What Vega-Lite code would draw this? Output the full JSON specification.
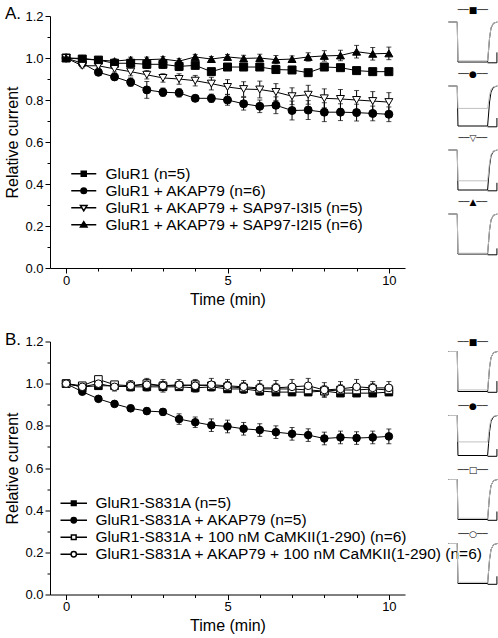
{
 "$schema": "https://vega.github.io/schema/vega-lite/v6.json",
 "padding": {"left": 4, "top": 5, "right": 0, "bottom": 0},
 "background": "white",
 "config": {
  "view": {"stroke": null},
  "font": "Liberation Sans",
  "axis": {"domainColor": "black", "tickColor": "black", "labelColor": "black", "titleColor": "black", "grid": false, "labelFontSize": 13, "titleFontSize": 16, "titleFontWeight": "normal", "labelFont": "Liberation Sans", "titleFont": "Liberation Sans", "domainWidth": 1, "tickWidth": 1},
  "legend": {"orient": "none", "title": null, "labelFontSize": 15.5, "labelFont": "Liberation Sans", "labelColor": "black", "labelLimit": 0, "labelOffset": 14, "rowPadding": -3.5, "padding": 0},
  "title": {"fontSize": 17, "fontWeight": "normal", "font": "Liberation Sans", "anchor": "start", "frame": "group", "color": "black"}
 },
 "datasets": {
  "A": [
   {"s":"GluR1 (n=5)","t":0,"m":1.0,"e":0.005},{"s":"GluR1 (n=5)","t":0.5,"m":0.995,"e":0.01},{"s":"GluR1 (n=5)","t":1,"m":0.99,"e":0.01},{"s":"GluR1 (n=5)","t":1.5,"m":0.975,"e":0.015},{"s":"GluR1 (n=5)","t":2,"m":0.975,"e":0.015},{"s":"GluR1 (n=5)","t":2.5,"m":0.97,"e":0.02},{"s":"GluR1 (n=5)","t":3,"m":0.97,"e":0.02},{"s":"GluR1 (n=5)","t":3.5,"m":0.96,"e":0.02},{"s":"GluR1 (n=5)","t":4,"m":0.965,"e":0.015},{"s":"GluR1 (n=5)","t":4.5,"m":0.935,"e":0.015},{"s":"GluR1 (n=5)","t":5,"m":0.957,"e":0.015},{"s":"GluR1 (n=5)","t":5.5,"m":0.957,"e":0.01},{"s":"GluR1 (n=5)","t":6,"m":0.957,"e":0.01},{"s":"GluR1 (n=5)","t":6.5,"m":0.945,"e":0.01},{"s":"GluR1 (n=5)","t":7,"m":0.943,"e":0.012},{"s":"GluR1 (n=5)","t":7.5,"m":0.93,"e":0.015},{"s":"GluR1 (n=5)","t":8,"m":0.957,"e":0.01},{"s":"GluR1 (n=5)","t":8.5,"m":0.954,"e":0.01},{"s":"GluR1 (n=5)","t":9,"m":0.94,"e":0.012},{"s":"GluR1 (n=5)","t":9.5,"m":0.935,"e":0.015},{"s":"GluR1 (n=5)","t":10,"m":0.935,"e":0.015},
   {"s":"GluR1 + AKAP79 (n=6)","t":0,"m":1.0,"e":0.005},{"s":"GluR1 + AKAP79 (n=6)","t":0.5,"m":0.975,"e":0.012},{"s":"GluR1 + AKAP79 (n=6)","t":1,"m":0.932,"e":0.012},{"s":"GluR1 + AKAP79 (n=6)","t":1.5,"m":0.91,"e":0.012},{"s":"GluR1 + AKAP79 (n=6)","t":2,"m":0.885,"e":0.02},{"s":"GluR1 + AKAP79 (n=6)","t":2.5,"m":0.848,"e":0.04},{"s":"GluR1 + AKAP79 (n=6)","t":3,"m":0.837,"e":0.02},{"s":"GluR1 + AKAP79 (n=6)","t":3.5,"m":0.834,"e":0.02},{"s":"GluR1 + AKAP79 (n=6)","t":4,"m":0.808,"e":0.015},{"s":"GluR1 + AKAP79 (n=6)","t":4.5,"m":0.808,"e":0.02},{"s":"GluR1 + AKAP79 (n=6)","t":5,"m":0.8,"e":0.025},{"s":"GluR1 + AKAP79 (n=6)","t":5.5,"m":0.782,"e":0.03},{"s":"GluR1 + AKAP79 (n=6)","t":6,"m":0.77,"e":0.03},{"s":"GluR1 + AKAP79 (n=6)","t":6.5,"m":0.775,"e":0.04},{"s":"GluR1 + AKAP79 (n=6)","t":7,"m":0.75,"e":0.045},{"s":"GluR1 + AKAP79 (n=6)","t":7.5,"m":0.752,"e":0.045},{"s":"GluR1 + AKAP79 (n=6)","t":8,"m":0.742,"e":0.045},{"s":"GluR1 + AKAP79 (n=6)","t":8.5,"m":0.742,"e":0.04},{"s":"GluR1 + AKAP79 (n=6)","t":9,"m":0.74,"e":0.04},{"s":"GluR1 + AKAP79 (n=6)","t":9.5,"m":0.736,"e":0.035},{"s":"GluR1 + AKAP79 (n=6)","t":10,"m":0.732,"e":0.035},
   {"s":"GluR1 + AKAP79 + SAP97-I3I5 (n=5)","t":0,"m":1.0,"e":0.005},{"s":"GluR1 + AKAP79 + SAP97-I3I5 (n=5)","t":0.5,"m":0.963,"e":0.01},{"s":"GluR1 + AKAP79 + SAP97-I3I5 (n=5)","t":1,"m":0.963,"e":0.01},{"s":"GluR1 + AKAP79 + SAP97-I3I5 (n=5)","t":1.5,"m":0.948,"e":0.015},{"s":"GluR1 + AKAP79 + SAP97-I3I5 (n=5)","t":2,"m":0.935,"e":0.02},{"s":"GluR1 + AKAP79 + SAP97-I3I5 (n=5)","t":2.5,"m":0.92,"e":0.02},{"s":"GluR1 + AKAP79 + SAP97-I3I5 (n=5)","t":3,"m":0.905,"e":0.02},{"s":"GluR1 + AKAP79 + SAP97-I3I5 (n=5)","t":3.5,"m":0.9,"e":0.025},{"s":"GluR1 + AKAP79 + SAP97-I3I5 (n=5)","t":4,"m":0.892,"e":0.025},{"s":"GluR1 + AKAP79 + SAP97-I3I5 (n=5)","t":4.5,"m":0.878,"e":0.03},{"s":"GluR1 + AKAP79 + SAP97-I3I5 (n=5)","t":5,"m":0.862,"e":0.035},{"s":"GluR1 + AKAP79 + SAP97-I3I5 (n=5)","t":5.5,"m":0.852,"e":0.035},{"s":"GluR1 + AKAP79 + SAP97-I3I5 (n=5)","t":6,"m":0.85,"e":0.04},{"s":"GluR1 + AKAP79 + SAP97-I3I5 (n=5)","t":6.5,"m":0.838,"e":0.04},{"s":"GluR1 + AKAP79 + SAP97-I3I5 (n=5)","t":7,"m":0.818,"e":0.04},{"s":"GluR1 + AKAP79 + SAP97-I3I5 (n=5)","t":7.5,"m":0.825,"e":0.045},{"s":"GluR1 + AKAP79 + SAP97-I3I5 (n=5)","t":8,"m":0.808,"e":0.045},{"s":"GluR1 + AKAP79 + SAP97-I3I5 (n=5)","t":8.5,"m":0.805,"e":0.045},{"s":"GluR1 + AKAP79 + SAP97-I3I5 (n=5)","t":9,"m":0.8,"e":0.045},{"s":"GluR1 + AKAP79 + SAP97-I3I5 (n=5)","t":9.5,"m":0.795,"e":0.045},{"s":"GluR1 + AKAP79 + SAP97-I3I5 (n=5)","t":10,"m":0.79,"e":0.045},
   {"s":"GluR1 + AKAP79 + SAP97-I2I5 (n=6)","t":0,"m":1.0,"e":0.005},{"s":"GluR1 + AKAP79 + SAP97-I2I5 (n=6)","t":0.5,"m":0.998,"e":0.01},{"s":"GluR1 + AKAP79 + SAP97-I2I5 (n=6)","t":1,"m":0.99,"e":0.01},{"s":"GluR1 + AKAP79 + SAP97-I2I5 (n=6)","t":1.5,"m":0.985,"e":0.01},{"s":"GluR1 + AKAP79 + SAP97-I2I5 (n=6)","t":2,"m":0.992,"e":0.012},{"s":"GluR1 + AKAP79 + SAP97-I2I5 (n=6)","t":2.5,"m":0.992,"e":0.012},{"s":"GluR1 + AKAP79 + SAP97-I2I5 (n=6)","t":3,"m":0.995,"e":0.012},{"s":"GluR1 + AKAP79 + SAP97-I2I5 (n=6)","t":3.5,"m":0.985,"e":0.012},{"s":"GluR1 + AKAP79 + SAP97-I2I5 (n=6)","t":4,"m":1.005,"e":0.012},{"s":"GluR1 + AKAP79 + SAP97-I2I5 (n=6)","t":4.5,"m":0.995,"e":0.012},{"s":"GluR1 + AKAP79 + SAP97-I2I5 (n=6)","t":5,"m":1.005,"e":0.012},{"s":"GluR1 + AKAP79 + SAP97-I2I5 (n=6)","t":5.5,"m":0.998,"e":0.015},{"s":"GluR1 + AKAP79 + SAP97-I2I5 (n=6)","t":6,"m":1.0,"e":0.018},{"s":"GluR1 + AKAP79 + SAP97-I2I5 (n=6)","t":6.5,"m":0.992,"e":0.02},{"s":"GluR1 + AKAP79 + SAP97-I2I5 (n=6)","t":7,"m":0.995,"e":0.015},{"s":"GluR1 + AKAP79 + SAP97-I2I5 (n=6)","t":7.5,"m":1.005,"e":0.02},{"s":"GluR1 + AKAP79 + SAP97-I2I5 (n=6)","t":8,"m":1.01,"e":0.025},{"s":"GluR1 + AKAP79 + SAP97-I2I5 (n=6)","t":8.5,"m":1.012,"e":0.025},{"s":"GluR1 + AKAP79 + SAP97-I2I5 (n=6)","t":9,"m":1.03,"e":0.03},{"s":"GluR1 + AKAP79 + SAP97-I2I5 (n=6)","t":9.5,"m":1.02,"e":0.03},{"s":"GluR1 + AKAP79 + SAP97-I2I5 (n=6)","t":10,"m":1.022,"e":0.03}
  ],
  "B": [
   {"s":"GluR1-S831A (n=5)","t":0,"m":1.0,"e":0.005},{"s":"GluR1-S831A (n=5)","t":0.5,"m":0.985,"e":0.01},{"s":"GluR1-S831A (n=5)","t":1,"m":0.99,"e":0.01},{"s":"GluR1-S831A (n=5)","t":1.5,"m":0.99,"e":0.012},{"s":"GluR1-S831A (n=5)","t":2,"m":0.985,"e":0.012},{"s":"GluR1-S831A (n=5)","t":2.5,"m":0.985,"e":0.012},{"s":"GluR1-S831A (n=5)","t":3,"m":0.985,"e":0.012},{"s":"GluR1-S831A (n=5)","t":3.5,"m":0.985,"e":0.012},{"s":"GluR1-S831A (n=5)","t":4,"m":0.98,"e":0.015},{"s":"GluR1-S831A (n=5)","t":4.5,"m":0.985,"e":0.015},{"s":"GluR1-S831A (n=5)","t":5,"m":0.975,"e":0.015},{"s":"GluR1-S831A (n=5)","t":5.5,"m":0.975,"e":0.015},{"s":"GluR1-S831A (n=5)","t":6,"m":0.965,"e":0.015},{"s":"GluR1-S831A (n=5)","t":6.5,"m":0.96,"e":0.015},{"s":"GluR1-S831A (n=5)","t":7,"m":0.96,"e":0.015},{"s":"GluR1-S831A (n=5)","t":7.5,"m":0.96,"e":0.015},{"s":"GluR1-S831A (n=5)","t":8,"m":0.965,"e":0.015},{"s":"GluR1-S831A (n=5)","t":8.5,"m":0.955,"e":0.015},{"s":"GluR1-S831A (n=5)","t":9,"m":0.955,"e":0.015},{"s":"GluR1-S831A (n=5)","t":9.5,"m":0.955,"e":0.015},{"s":"GluR1-S831A (n=5)","t":10,"m":0.96,"e":0.015},
   {"s":"GluR1-S831A + AKAP79 (n=5)","t":0,"m":1.0,"e":0.005},{"s":"GluR1-S831A + AKAP79 (n=5)","t":0.5,"m":0.962,"e":0.01},{"s":"GluR1-S831A + AKAP79 (n=5)","t":1,"m":0.928,"e":0.01},{"s":"GluR1-S831A + AKAP79 (n=5)","t":1.5,"m":0.904,"e":0.01},{"s":"GluR1-S831A + AKAP79 (n=5)","t":2,"m":0.883,"e":0.015},{"s":"GluR1-S831A + AKAP79 (n=5)","t":2.5,"m":0.87,"e":0.015},{"s":"GluR1-S831A + AKAP79 (n=5)","t":3,"m":0.866,"e":0.015},{"s":"GluR1-S831A + AKAP79 (n=5)","t":3.5,"m":0.832,"e":0.025},{"s":"GluR1-S831A + AKAP79 (n=5)","t":4,"m":0.817,"e":0.025},{"s":"GluR1-S831A + AKAP79 (n=5)","t":4.5,"m":0.803,"e":0.03},{"s":"GluR1-S831A + AKAP79 (n=5)","t":5,"m":0.797,"e":0.03},{"s":"GluR1-S831A + AKAP79 (n=5)","t":5.5,"m":0.786,"e":0.03},{"s":"GluR1-S831A + AKAP79 (n=5)","t":6,"m":0.78,"e":0.03},{"s":"GluR1-S831A + AKAP79 (n=5)","t":6.5,"m":0.77,"e":0.03},{"s":"GluR1-S831A + AKAP79 (n=5)","t":7,"m":0.762,"e":0.03},{"s":"GluR1-S831A + AKAP79 (n=5)","t":7.5,"m":0.756,"e":0.03},{"s":"GluR1-S831A + AKAP79 (n=5)","t":8,"m":0.74,"e":0.03},{"s":"GluR1-S831A + AKAP79 (n=5)","t":8.5,"m":0.745,"e":0.03},{"s":"GluR1-S831A + AKAP79 (n=5)","t":9,"m":0.742,"e":0.03},{"s":"GluR1-S831A + AKAP79 (n=5)","t":9.5,"m":0.745,"e":0.03},{"s":"GluR1-S831A + AKAP79 (n=5)","t":10,"m":0.75,"e":0.035},
   {"s":"GluR1-S831A + 100 nM CaMKII(1-290) (n=6)","t":0,"m":1.0,"e":0.005},{"s":"GluR1-S831A + 100 nM CaMKII(1-290) (n=6)","t":0.5,"m":0.99,"e":0.01},{"s":"GluR1-S831A + 100 nM CaMKII(1-290) (n=6)","t":1,"m":1.02,"e":0.012},{"s":"GluR1-S831A + 100 nM CaMKII(1-290) (n=6)","t":1.5,"m":0.995,"e":0.015},{"s":"GluR1-S831A + 100 nM CaMKII(1-290) (n=6)","t":2,"m":0.99,"e":0.015},{"s":"GluR1-S831A + 100 nM CaMKII(1-290) (n=6)","t":2.5,"m":1.0,"e":0.02},{"s":"GluR1-S831A + 100 nM CaMKII(1-290) (n=6)","t":3,"m":0.99,"e":0.02},{"s":"GluR1-S831A + 100 nM CaMKII(1-290) (n=6)","t":3.5,"m":0.99,"e":0.02},{"s":"GluR1-S831A + 100 nM CaMKII(1-290) (n=6)","t":4,"m":0.995,"e":0.02},{"s":"GluR1-S831A + 100 nM CaMKII(1-290) (n=6)","t":4.5,"m":0.99,"e":0.02},{"s":"GluR1-S831A + 100 nM CaMKII(1-290) (n=6)","t":5,"m":0.985,"e":0.025},{"s":"GluR1-S831A + 100 nM CaMKII(1-290) (n=6)","t":5.5,"m":0.98,"e":0.025},{"s":"GluR1-S831A + 100 nM CaMKII(1-290) (n=6)","t":6,"m":0.975,"e":0.025},{"s":"GluR1-S831A + 100 nM CaMKII(1-290) (n=6)","t":6.5,"m":0.975,"e":0.025},{"s":"GluR1-S831A + 100 nM CaMKII(1-290) (n=6)","t":7,"m":0.975,"e":0.025},{"s":"GluR1-S831A + 100 nM CaMKII(1-290) (n=6)","t":7.5,"m":0.97,"e":0.025},{"s":"GluR1-S831A + 100 nM CaMKII(1-290) (n=6)","t":8,"m":0.965,"e":0.025},{"s":"GluR1-S831A + 100 nM CaMKII(1-290) (n=6)","t":8.5,"m":0.97,"e":0.025},{"s":"GluR1-S831A + 100 nM CaMKII(1-290) (n=6)","t":9,"m":0.97,"e":0.025},{"s":"GluR1-S831A + 100 nM CaMKII(1-290) (n=6)","t":9.5,"m":0.975,"e":0.025},{"s":"GluR1-S831A + 100 nM CaMKII(1-290) (n=6)","t":10,"m":0.97,"e":0.025},
   {"s":"GluR1-S831A + AKAP79 + 100 nM CaMKII(1-290) (n=6)","t":0,"m":1.0,"e":0.005},{"s":"GluR1-S831A + AKAP79 + 100 nM CaMKII(1-290) (n=6)","t":0.5,"m":0.985,"e":0.012},{"s":"GluR1-S831A + AKAP79 + 100 nM CaMKII(1-290) (n=6)","t":1,"m":1.0,"e":0.015},{"s":"GluR1-S831A + AKAP79 + 100 nM CaMKII(1-290) (n=6)","t":1.5,"m":0.985,"e":0.02},{"s":"GluR1-S831A + AKAP79 + 100 nM CaMKII(1-290) (n=6)","t":2,"m":0.99,"e":0.025},{"s":"GluR1-S831A + AKAP79 + 100 nM CaMKII(1-290) (n=6)","t":2.5,"m":0.995,"e":0.03},{"s":"GluR1-S831A + AKAP79 + 100 nM CaMKII(1-290) (n=6)","t":3,"m":0.99,"e":0.03},{"s":"GluR1-S831A + AKAP79 + 100 nM CaMKII(1-290) (n=6)","t":3.5,"m":0.995,"e":0.025},{"s":"GluR1-S831A + AKAP79 + 100 nM CaMKII(1-290) (n=6)","t":4,"m":0.99,"e":0.03},{"s":"GluR1-S831A + AKAP79 + 100 nM CaMKII(1-290) (n=6)","t":4.5,"m":0.995,"e":0.03},{"s":"GluR1-S831A + AKAP79 + 100 nM CaMKII(1-290) (n=6)","t":5,"m":0.99,"e":0.03},{"s":"GluR1-S831A + AKAP79 + 100 nM CaMKII(1-290) (n=6)","t":5.5,"m":0.985,"e":0.03},{"s":"GluR1-S831A + AKAP79 + 100 nM CaMKII(1-290) (n=6)","t":6,"m":0.98,"e":0.035},{"s":"GluR1-S831A + AKAP79 + 100 nM CaMKII(1-290) (n=6)","t":6.5,"m":0.98,"e":0.035},{"s":"GluR1-S831A + AKAP79 + 100 nM CaMKII(1-290) (n=6)","t":7,"m":0.985,"e":0.035},{"s":"GluR1-S831A + AKAP79 + 100 nM CaMKII(1-290) (n=6)","t":7.5,"m":0.99,"e":0.035},{"s":"GluR1-S831A + AKAP79 + 100 nM CaMKII(1-290) (n=6)","t":8,"m":0.97,"e":0.035},{"s":"GluR1-S831A + AKAP79 + 100 nM CaMKII(1-290) (n=6)","t":8.5,"m":0.975,"e":0.035},{"s":"GluR1-S831A + AKAP79 + 100 nM CaMKII(1-290) (n=6)","t":9,"m":0.985,"e":0.035},{"s":"GluR1-S831A + AKAP79 + 100 nM CaMKII(1-290) (n=6)","t":9.5,"m":0.98,"e":0.03},{"s":"GluR1-S831A + AKAP79 + 100 nM CaMKII(1-290) (n=6)","t":10,"m":0.98,"e":0.03}
  ],
  "T": [
   {"p":1,"k":"ctrl","tx":0,"ty":0},{"p":1,"k":"ctrl","tx":18,"ty":0},{"p":1,"k":"ctrl","tx":19.5,"ty":-1},{"p":1,"k":"ctrl","tx":80,"ty":-1},{"p":1,"k":"ctrl","tx":82,"ty":-0.7},{"p":1,"k":"ctrl","tx":84,"ty":-0.4},{"p":1,"k":"ctrl","tx":87,"ty":-0.15},{"p":1,"k":"ctrl","tx":92,"ty":-0.03},{"p":1,"k":"ctrl","tx":100,"ty":0},
   {"p":1,"k":"drug","tx":0,"ty":0},{"p":1,"k":"drug","tx":18,"ty":0},{"p":1,"k":"drug","tx":19.5,"ty":-0.97},{"p":1,"k":"drug","tx":80,"ty":-0.97},{"p":1,"k":"drug","tx":82,"ty":-0.679},{"p":1,"k":"drug","tx":84,"ty":-0.388},{"p":1,"k":"drug","tx":87,"ty":-0.146},{"p":1,"k":"drug","tx":92,"ty":-0.029},{"p":1,"k":"drug","tx":100,"ty":0},
   {"p":1,"k":"bar","tx":80,"ty":-1.02},{"p":1,"k":"bar","tx":99,"ty":-1.02},{"p":1,"k":"bar","tx":99,"ty":-0.76},
   {"p":2,"k":"ctrl","tx":0,"ty":0},{"p":2,"k":"ctrl","tx":18,"ty":0},{"p":2,"k":"ctrl","tx":19.5,"ty":-1},{"p":2,"k":"ctrl","tx":80,"ty":-1},{"p":2,"k":"ctrl","tx":82,"ty":-0.7},{"p":2,"k":"ctrl","tx":84,"ty":-0.4},{"p":2,"k":"ctrl","tx":87,"ty":-0.15},{"p":2,"k":"ctrl","tx":92,"ty":-0.03},{"p":2,"k":"ctrl","tx":100,"ty":0},
   {"p":2,"k":"drug","tx":0,"ty":0},{"p":2,"k":"drug","tx":18,"ty":0},{"p":2,"k":"drug","tx":19.5,"ty":-0.56},{"p":2,"k":"drug","tx":80,"ty":-0.56},{"p":2,"k":"drug","tx":82,"ty":-0.392},{"p":2,"k":"drug","tx":84,"ty":-0.224},{"p":2,"k":"drug","tx":87,"ty":-0.084},{"p":2,"k":"drug","tx":92,"ty":-0.017},{"p":2,"k":"drug","tx":100,"ty":0},
   {"p":2,"k":"bar","tx":80,"ty":-1.02},{"p":2,"k":"bar","tx":99,"ty":-1.02},{"p":2,"k":"bar","tx":99,"ty":-0.8},
   {"p":3,"k":"ctrl","tx":0,"ty":0},{"p":3,"k":"ctrl","tx":18,"ty":0},{"p":3,"k":"ctrl","tx":19.5,"ty":-1},{"p":3,"k":"ctrl","tx":80,"ty":-1},{"p":3,"k":"ctrl","tx":82,"ty":-0.7},{"p":3,"k":"ctrl","tx":84,"ty":-0.4},{"p":3,"k":"ctrl","tx":87,"ty":-0.15},{"p":3,"k":"ctrl","tx":92,"ty":-0.03},{"p":3,"k":"ctrl","tx":100,"ty":0},
   {"p":3,"k":"drug","tx":0,"ty":0},{"p":3,"k":"drug","tx":18,"ty":0},{"p":3,"k":"drug","tx":19.5,"ty":-0.77},{"p":3,"k":"drug","tx":80,"ty":-0.77},{"p":3,"k":"drug","tx":82,"ty":-0.539},{"p":3,"k":"drug","tx":84,"ty":-0.308},{"p":3,"k":"drug","tx":87,"ty":-0.116},{"p":3,"k":"drug","tx":92,"ty":-0.023},{"p":3,"k":"drug","tx":100,"ty":0},
   {"p":3,"k":"bar","tx":80,"ty":-1.02},{"p":3,"k":"bar","tx":99,"ty":-1.02},{"p":3,"k":"bar","tx":99,"ty":-0.82},
   {"p":4,"k":"ctrl","tx":0,"ty":0},{"p":4,"k":"ctrl","tx":18,"ty":0},{"p":4,"k":"ctrl","tx":19.5,"ty":-1},{"p":4,"k":"ctrl","tx":80,"ty":-1},{"p":4,"k":"ctrl","tx":82,"ty":-0.7},{"p":4,"k":"ctrl","tx":84,"ty":-0.4},{"p":4,"k":"ctrl","tx":87,"ty":-0.15},{"p":4,"k":"ctrl","tx":92,"ty":-0.03},{"p":4,"k":"ctrl","tx":100,"ty":0},
   {"p":4,"k":"drug","tx":0,"ty":0},{"p":4,"k":"drug","tx":18,"ty":0},{"p":4,"k":"drug","tx":19.5,"ty":-0.98},{"p":4,"k":"drug","tx":80,"ty":-0.98},{"p":4,"k":"drug","tx":82,"ty":-0.686},{"p":4,"k":"drug","tx":84,"ty":-0.392},{"p":4,"k":"drug","tx":87,"ty":-0.147},{"p":4,"k":"drug","tx":92,"ty":-0.029},{"p":4,"k":"drug","tx":100,"ty":0},
   {"p":4,"k":"bar","tx":80,"ty":-1.02},{"p":4,"k":"bar","tx":99,"ty":-1.02},{"p":4,"k":"bar","tx":99,"ty":-0.86},
   {"p":5,"k":"ctrl","tx":0,"ty":0},{"p":5,"k":"ctrl","tx":18,"ty":0},{"p":5,"k":"ctrl","tx":19.5,"ty":-1},{"p":5,"k":"ctrl","tx":80,"ty":-1},{"p":5,"k":"ctrl","tx":82,"ty":-0.7},{"p":5,"k":"ctrl","tx":84,"ty":-0.4},{"p":5,"k":"ctrl","tx":87,"ty":-0.15},{"p":5,"k":"ctrl","tx":92,"ty":-0.03},{"p":5,"k":"ctrl","tx":100,"ty":0},
   {"p":5,"k":"drug","tx":0,"ty":0},{"p":5,"k":"drug","tx":18,"ty":0},{"p":5,"k":"drug","tx":19.5,"ty":-0.96},{"p":5,"k":"drug","tx":80,"ty":-0.96},{"p":5,"k":"drug","tx":82,"ty":-0.672},{"p":5,"k":"drug","tx":84,"ty":-0.384},{"p":5,"k":"drug","tx":87,"ty":-0.144},{"p":5,"k":"drug","tx":92,"ty":-0.029},{"p":5,"k":"drug","tx":100,"ty":0},
   {"p":5,"k":"bar","tx":80,"ty":-1.02},{"p":5,"k":"bar","tx":99,"ty":-1.02},{"p":5,"k":"bar","tx":99,"ty":-0.74},
   {"p":6,"k":"ctrl","tx":0,"ty":0},{"p":6,"k":"ctrl","tx":18,"ty":0},{"p":6,"k":"ctrl","tx":19.5,"ty":-1},{"p":6,"k":"ctrl","tx":80,"ty":-1},{"p":6,"k":"ctrl","tx":82,"ty":-0.7},{"p":6,"k":"ctrl","tx":84,"ty":-0.4},{"p":6,"k":"ctrl","tx":87,"ty":-0.15},{"p":6,"k":"ctrl","tx":92,"ty":-0.03},{"p":6,"k":"ctrl","tx":100,"ty":0},
   {"p":6,"k":"drug","tx":0,"ty":0},{"p":6,"k":"drug","tx":18,"ty":0},{"p":6,"k":"drug","tx":19.5,"ty":-0.66},{"p":6,"k":"drug","tx":80,"ty":-0.66},{"p":6,"k":"drug","tx":82,"ty":-0.462},{"p":6,"k":"drug","tx":84,"ty":-0.264},{"p":6,"k":"drug","tx":87,"ty":-0.099},{"p":6,"k":"drug","tx":92,"ty":-0.02},{"p":6,"k":"drug","tx":100,"ty":0},
   {"p":6,"k":"bar","tx":80,"ty":-1.02},{"p":6,"k":"bar","tx":99,"ty":-1.02},{"p":6,"k":"bar","tx":99,"ty":-0.84},
   {"p":7,"k":"ctrl","tx":0,"ty":0},{"p":7,"k":"ctrl","tx":18,"ty":0},{"p":7,"k":"ctrl","tx":19.5,"ty":-1},{"p":7,"k":"ctrl","tx":80,"ty":-1},{"p":7,"k":"ctrl","tx":82,"ty":-0.7},{"p":7,"k":"ctrl","tx":84,"ty":-0.4},{"p":7,"k":"ctrl","tx":87,"ty":-0.15},{"p":7,"k":"ctrl","tx":92,"ty":-0.03},{"p":7,"k":"ctrl","tx":100,"ty":0},
   {"p":7,"k":"drug","tx":0,"ty":0},{"p":7,"k":"drug","tx":18,"ty":0},{"p":7,"k":"drug","tx":19.5,"ty":-0.97},{"p":7,"k":"drug","tx":80,"ty":-0.97},{"p":7,"k":"drug","tx":82,"ty":-0.679},{"p":7,"k":"drug","tx":84,"ty":-0.388},{"p":7,"k":"drug","tx":87,"ty":-0.146},{"p":7,"k":"drug","tx":92,"ty":-0.029},{"p":7,"k":"drug","tx":100,"ty":0},
   {"p":7,"k":"bar","tx":80,"ty":-1.02},{"p":7,"k":"bar","tx":99,"ty":-1.02},{"p":7,"k":"bar","tx":99,"ty":-0.8},
   {"p":8,"k":"ctrl","tx":0,"ty":0},{"p":8,"k":"ctrl","tx":18,"ty":0},{"p":8,"k":"ctrl","tx":19.5,"ty":-1},{"p":8,"k":"ctrl","tx":80,"ty":-1},{"p":8,"k":"ctrl","tx":82,"ty":-0.7},{"p":8,"k":"ctrl","tx":84,"ty":-0.4},{"p":8,"k":"ctrl","tx":87,"ty":-0.15},{"p":8,"k":"ctrl","tx":92,"ty":-0.03},{"p":8,"k":"ctrl","tx":100,"ty":0},
   {"p":8,"k":"drug","tx":0,"ty":0},{"p":8,"k":"drug","tx":18,"ty":0},{"p":8,"k":"drug","tx":19.5,"ty":-0.97},{"p":8,"k":"drug","tx":80,"ty":-0.97},{"p":8,"k":"drug","tx":82,"ty":-0.679},{"p":8,"k":"drug","tx":84,"ty":-0.388},{"p":8,"k":"drug","tx":87,"ty":-0.146},{"p":8,"k":"drug","tx":92,"ty":-0.029},{"p":8,"k":"drug","tx":100,"ty":0},
   {"p":8,"k":"bar","tx":80,"ty":-1.02},{"p":8,"k":"bar","tx":99,"ty":-1.02},{"p":8,"k":"bar","tx":99,"ty":-0.82}
  ]
 },
 "bounds": "flush",
 "columns": 2,
 "spacing": {"row": 73.5, "column": 43.4},
 "resolve": {"scale": {"x": "independent", "y": "independent", "color": "independent", "shape": "independent", "fill": "independent"}},
 "concat": [
  {
   "title": {"text": "A.", "dx": -45, "dy": 17},
   "width": 355, "height": 252,
   "data": {"name": "A"},
   "encoding": {
    "x": {"field": "t", "type": "quantitative", "scale": {"domain": [-0.5, 10.5], "nice": false, "zero": false},
          "axis": {"title": "Time (min)", "values": [0,1,2,3,4,5,6,7,8,9,10], "labelExpr": "datum.value % 5 === 0 ? datum.label : ''", "tickSize": {"condition": {"test": "datum.value % 5 === 0", "value": 5}, "value": 3}, "labelPadding": 1, "titlePadding": 4}},
    "y": {"field": "m", "type": "quantitative", "scale": {"domain": [0, 1.2], "nice": false, "zero": false},
          "axis": {"title": "Relative current", "values": [0,0.1,0.2,0.3,0.4,0.5,0.6,0.7,0.8,0.9,1.0,1.1,1.2], "labelExpr": "round(datum.value*10) % 2 === 0 ? format(datum.value, '.1f') : ''", "tickSize": {"condition": {"test": "round(datum.value*10) % 2 === 0", "value": 5}, "value": 3}, "labelPadding": 2, "titlePadding": 4}}
   },
   "resolve": {"scale": {"shape": "independent", "fill": "independent"}},
   "layer": [
    {"mark": {"type": "line", "color": "black", "strokeWidth": 1}, "encoding": {"detail": {"field": "s"}}},
    {"mark": {"type": "errorbar", "ticks": {"size": 5}, "color": "black", "thickness": 1}, "encoding": {"yError": {"field": "e"}}},
    {"mark": {"type": "point", "filled": true, "stroke": "black", "strokeWidth": 1, "size": 64, "opacity": 1},
     "encoding": {
      "shape": {"field": "s", "type": "nominal", "scale": {"domain": ["GluR1 (n=5)","GluR1 + AKAP79 (n=6)","GluR1 + AKAP79 + SAP97-I3I5 (n=5)","GluR1 + AKAP79 + SAP97-I2I5 (n=6)"], "range": ["square","circle","triangle-down","triangle-up"]}, "legend": null},
      "fill": {"field": "s", "type": "nominal", "scale": {"domain": ["GluR1 (n=5)","GluR1 + AKAP79 (n=6)","GluR1 + AKAP79 + SAP97-I3I5 (n=5)","GluR1 + AKAP79 + SAP97-I2I5 (n=6)"], "range": ["black","black","white","black"]}, "legend": null}
     }},
    {"transform": [{"filter": "false"}],
     "mark": {"type": "point", "filled": true, "stroke": "black", "strokeWidth": 1, "opacity": 1},
     "encoding": {
      "shape": {"field": "s", "type": "nominal", "scale": {"domain": ["GluR1 (n=5)","GluR1 + AKAP79 (n=6)","GluR1 + AKAP79 + SAP97-I3I5 (n=5)","GluR1 + AKAP79 + SAP97-I2I5 (n=6)"], "range": ["M-2.5,0H-0.5M0.5,0H2.5M-0.5,-0.5H0.5V0.5H-0.5Z","M-2.5,0H-0.56M0.56,0H2.5M-0.56,0A0.56,0.56 0 1,0 0.56,0A0.56,0.56 0 1,0 -0.56,0Z","M-2.5,0H-0.38M0.38,0H2.5M-0.66,-0.47L0.66,-0.47L0,0.62Z","M-2.5,0H-0.38M0.38,0H2.5M-0.66,0.47L0.66,0.47L0,-0.62Z"]}, "legend": {"legendX": 26, "legendY": 150, "rowPadding": -3.5}},
      "fill": {"field": "s", "type": "nominal", "scale": {"domain": ["GluR1 (n=5)","GluR1 + AKAP79 (n=6)","GluR1 + AKAP79 + SAP97-I3I5 (n=5)","GluR1 + AKAP79 + SAP97-I2I5 (n=6)"], "range": ["black","black","white","black"]}, "legend": {"legendX": 26, "legendY": 150, "rowPadding": -3.5}}
     }}
   ]
  },
  {
   "bounds": "flush",
   "spacing": 16,
   "vconcat": [
    {"title": {"text": "──■──", "font": "DejaVu Sans", "fontSize": 9, "anchor": "middle", "baseline": "middle", "offset": -3, "color": "black"}, "width": 49, "height": 48, "data": {"name": "T"}, "transform": [{"filter": "datum.p === 1"}], "mark": {"type": "line", "strokeWidth": 1}, "encoding": {"x": {"field": "tx", "type": "quantitative", "scale": {"domain": [0, 100]}, "axis": null}, "y": {"field": "ty", "type": "quantitative", "scale": {"domain": [-1.05, 0.15]}, "axis": null}, "color": {"field": "k", "type": "nominal", "scale": {"domain": ["ctrl", "drug", "bar"], "range": ["black", "#c0c0c0", "black"]}, "legend": null}}},
    {"title": {"text": "──●──", "font": "DejaVu Sans", "fontSize": 9, "anchor": "middle", "baseline": "middle", "offset": -3, "color": "black"}, "width": 49, "height": 48, "data": {"name": "T"}, "transform": [{"filter": "datum.p === 2"}], "mark": {"type": "line", "strokeWidth": 1}, "encoding": {"x": {"field": "tx", "type": "quantitative", "scale": {"domain": [0, 100]}, "axis": null}, "y": {"field": "ty", "type": "quantitative", "scale": {"domain": [-1.05, 0.15]}, "axis": null}, "color": {"field": "k", "type": "nominal", "scale": {"domain": ["ctrl", "drug", "bar"], "range": ["black", "#c0c0c0", "black"]}, "legend": null}}},
    {"title": {"text": "──▽──", "font": "DejaVu Sans", "fontSize": 9, "anchor": "middle", "baseline": "middle", "offset": -3, "color": "black"}, "width": 49, "height": 48, "data": {"name": "T"}, "transform": [{"filter": "datum.p === 3"}], "mark": {"type": "line", "strokeWidth": 1}, "encoding": {"x": {"field": "tx", "type": "quantitative", "scale": {"domain": [0, 100]}, "axis": null}, "y": {"field": "ty", "type": "quantitative", "scale": {"domain": [-1.05, 0.15]}, "axis": null}, "color": {"field": "k", "type": "nominal", "scale": {"domain": ["ctrl", "drug", "bar"], "range": ["black", "#c0c0c0", "black"]}, "legend": null}}},
    {"title": {"text": "──▲──", "font": "DejaVu Sans", "fontSize": 9, "anchor": "middle", "baseline": "middle", "offset": -3, "color": "black"}, "width": 49, "height": 48, "data": {"name": "T"}, "transform": [{"filter": "datum.p === 4"}], "mark": {"type": "line", "strokeWidth": 1}, "encoding": {"x": {"field": "tx", "type": "quantitative", "scale": {"domain": [0, 100]}, "axis": null}, "y": {"field": "ty", "type": "quantitative", "scale": {"domain": [-1.05, 0.15]}, "axis": null}, "color": {"field": "k", "type": "nominal", "scale": {"domain": ["ctrl", "drug", "bar"], "range": ["black", "#c0c0c0", "black"]}, "legend": null}}}
   ]
  },
  {
   "title": {"text": "B.", "dx": -45, "dy": 17},
   "width": 355, "height": 253,
   "data": {"name": "B"},
   "encoding": {
    "x": {"field": "t", "type": "quantitative", "scale": {"domain": [-0.5, 10.5], "nice": false, "zero": false},
          "axis": {"title": "Time (min)", "values": [0,1,2,3,4,5,6,7,8,9,10], "labelExpr": "datum.value % 5 === 0 ? datum.label : ''", "tickSize": {"condition": {"test": "datum.value % 5 === 0", "value": 5}, "value": 3}, "labelPadding": 1, "titlePadding": 4}},
    "y": {"field": "m", "type": "quantitative", "scale": {"domain": [0, 1.2], "nice": false, "zero": false},
          "axis": {"title": "Relative current", "values": [0,0.1,0.2,0.3,0.4,0.5,0.6,0.7,0.8,0.9,1.0,1.1,1.2], "labelExpr": "round(datum.value*10) % 2 === 0 ? format(datum.value, '.1f') : ''", "tickSize": {"condition": {"test": "round(datum.value*10) % 2 === 0", "value": 5}, "value": 3}, "labelPadding": 2, "titlePadding": 4}}
   },
   "resolve": {"scale": {"shape": "independent", "fill": "independent"}},
   "layer": [
    {"mark": {"type": "line", "color": "black", "strokeWidth": 1}, "encoding": {"detail": {"field": "s"}}},
    {"mark": {"type": "errorbar", "ticks": {"size": 5}, "color": "black", "thickness": 1}, "encoding": {"yError": {"field": "e"}}},
    {"mark": {"type": "point", "filled": true, "stroke": "black", "strokeWidth": 1, "size": 58, "opacity": 1},
     "encoding": {
      "shape": {"field": "s", "type": "nominal", "scale": {"domain": ["GluR1-S831A (n=5)","GluR1-S831A + AKAP79 (n=5)","GluR1-S831A + 100 nM CaMKII(1-290) (n=6)","GluR1-S831A + AKAP79 + 100 nM CaMKII(1-290) (n=6)"], "range": ["square","circle","square","circle"]}, "legend": null},
      "fill": {"field": "s", "type": "nominal", "scale": {"domain": ["GluR1-S831A (n=5)","GluR1-S831A + AKAP79 (n=5)","GluR1-S831A + 100 nM CaMKII(1-290) (n=6)","GluR1-S831A + AKAP79 + 100 nM CaMKII(1-290) (n=6)"], "range": ["black","black","white","white"]}, "legend": null}
     }},
    {"transform": [{"filter": "false"}],
     "mark": {"type": "point", "filled": true, "stroke": "black", "strokeWidth": 1, "opacity": 1},
     "encoding": {
      "shape": {"field": "s", "type": "nominal", "scale": {"domain": ["GluR1-S831A (n=5)","GluR1-S831A + AKAP79 (n=5)","GluR1-S831A + 100 nM CaMKII(1-290) (n=6)","GluR1-S831A + AKAP79 + 100 nM CaMKII(1-290) (n=6)"], "range": ["M-2.65,0H-0.47M0.47,0H2.65M-0.47,-0.47H0.47V0.47H-0.47Z","M-2.65,0H-0.53M0.53,0H2.65M-0.53,0A0.53,0.53 0 1,0 0.53,0A0.53,0.53 0 1,0 -0.53,0Z","M-2.65,0H-0.47M0.47,0H2.65M-0.47,-0.47H0.47V0.47H-0.47Z","M-2.65,0H-0.53M0.53,0H2.65M-0.53,0A0.53,0.53 0 1,0 0.53,0A0.53,0.53 0 1,0 -0.53,0Z"]}, "legend": {"legendX": 16, "legendY": 154, "rowPadding": -3.5}},
      "fill": {"field": "s", "type": "nominal", "scale": {"domain": ["GluR1-S831A (n=5)","GluR1-S831A + AKAP79 (n=5)","GluR1-S831A + 100 nM CaMKII(1-290) (n=6)","GluR1-S831A + AKAP79 + 100 nM CaMKII(1-290) (n=6)"], "range": ["black","black","white","white"]}, "legend": {"legendX": 16, "legendY": 154, "rowPadding": -3.5}}
     }}
   ]
  },
  {
   "bounds": "flush",
   "spacing": 12,
   "vconcat": [
    {"title": {"text": "──■──", "font": "DejaVu Sans", "fontSize": 9, "anchor": "middle", "baseline": "middle", "offset": -9, "color": "black"}, "width": 49, "height": 52, "data": {"name": "T"}, "transform": [{"filter": "datum.p === 5"}], "mark": {"type": "line", "strokeWidth": 1}, "encoding": {"x": {"field": "tx", "type": "quantitative", "scale": {"domain": [0, 100]}, "axis": null}, "y": {"field": "ty", "type": "quantitative", "scale": {"domain": [-1.05, 0.25]}, "axis": null}, "color": {"field": "k", "type": "nominal", "scale": {"domain": ["ctrl", "drug", "bar"], "range": ["black", "#c0c0c0", "black"]}, "legend": null}}},
    {"title": {"text": "──●──", "font": "DejaVu Sans", "fontSize": 9, "anchor": "middle", "baseline": "middle", "offset": -9, "color": "black"}, "width": 49, "height": 52, "data": {"name": "T"}, "transform": [{"filter": "datum.p === 6"}], "mark": {"type": "line", "strokeWidth": 1}, "encoding": {"x": {"field": "tx", "type": "quantitative", "scale": {"domain": [0, 100]}, "axis": null}, "y": {"field": "ty", "type": "quantitative", "scale": {"domain": [-1.05, 0.25]}, "axis": null}, "color": {"field": "k", "type": "nominal", "scale": {"domain": ["ctrl", "drug", "bar"], "range": ["black", "#c0c0c0", "black"]}, "legend": null}}},
    {"title": {"text": "──□──", "font": "DejaVu Sans", "fontSize": 9, "anchor": "middle", "baseline": "middle", "offset": -9, "color": "black"}, "width": 49, "height": 52, "data": {"name": "T"}, "transform": [{"filter": "datum.p === 7"}], "mark": {"type": "line", "strokeWidth": 1}, "encoding": {"x": {"field": "tx", "type": "quantitative", "scale": {"domain": [0, 100]}, "axis": null}, "y": {"field": "ty", "type": "quantitative", "scale": {"domain": [-1.05, 0.25]}, "axis": null}, "color": {"field": "k", "type": "nominal", "scale": {"domain": ["ctrl", "drug", "bar"], "range": ["black", "#c0c0c0", "black"]}, "legend": null}}},
    {"title": {"text": "──○──", "font": "DejaVu Sans", "fontSize": 9, "anchor": "middle", "baseline": "middle", "offset": -9, "color": "black"}, "width": 49, "height": 52, "data": {"name": "T"}, "transform": [{"filter": "datum.p === 8"}], "mark": {"type": "line", "strokeWidth": 1}, "encoding": {"x": {"field": "tx", "type": "quantitative", "scale": {"domain": [0, 100]}, "axis": null}, "y": {"field": "ty", "type": "quantitative", "scale": {"domain": [-1.05, 0.25]}, "axis": null}, "color": {"field": "k", "type": "nominal", "scale": {"domain": ["ctrl", "drug", "bar"], "range": ["black", "#c0c0c0", "black"]}, "legend": null}}}
   ]
  }
 ]
}
